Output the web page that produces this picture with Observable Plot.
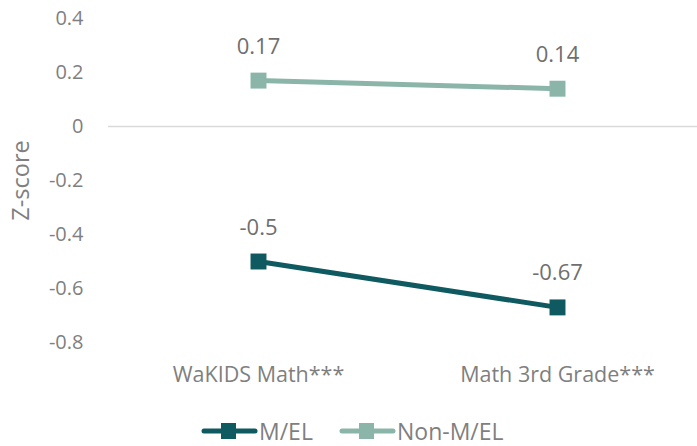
<!DOCTYPE html>
<html>
<head>
<meta charset="utf-8">
<script src="https://cdn.jsdelivr.net/npm/d3@7"></script>
<script src="https://cdn.jsdelivr.net/npm/@observablehq/plot@0.6"></script>
<style>
  body { margin: 0; background: #fff; font-family: "Open Sans", sans-serif; }
  #chart { width: 697px; }
  .legend { position: relative; height: 46px; font-size: 23px; color: #7f7f7f; }
  .legend .item { position: absolute; top: 16px; display: flex; align-items: center; height: 30px; }
  .legend svg { display: block; }
</style>
</head>
<body>
<div id="chart"></div>
<script>
const categories = ["WaKIDS Math***", "Math 3rd Grade***"];
const seriesNames = ["M/EL", "Non-M/EL"];
const melValues = [-0.5, -0.67];
const nonMelValues = [0.17, 0.14];
const yTicks = [-0.8, -0.6, -0.4, -0.2, 0, 0.2, 0.4];
const colors = ["#0f5a60", "#8bb5a8"];

const data = [];
categories.forEach((c, i) => {
  data.push({category: c, series: seriesNames[0], value: melValues[i]});
  data.push({category: c, series: seriesNames[1], value: nonMelValues[i]});
});

const textColor = "#7f7f7f";

const plot = Plot.plot({
  width: 697,
  height: 400,
  marginLeft: 108,
  marginRight: 0,
  marginTop: 18,
  marginBottom: 58,
  style: { fontFamily: "Open Sans, sans-serif", fontSize: "20px", color: textColor, background: "#fff" },
  x: { type: "point", domain: categories, range: [258, 557], padding: 0, label: null },
  y: { domain: [-0.8, 0.4], ticks: yTicks, label: null },
  color: { domain: seriesNames, range: colors },
  marks: [
    Plot.ruleY([0], { stroke: "#d9d9d9", strokeWidth: 1.5 }),
    Plot.axisY({ ticks: yTicks, tickSize: 0, tickPadding: 25, tickFormat: d => String(d), fontSize: 20, fill: textColor }),
    Plot.axisX({ tickSize: 0, tickPadding: 24, fontSize: 21.5, fill: textColor, frameAnchor: "bottom" }),
    Plot.text(["Z-score"], { frameAnchor: "left", textAnchor: "middle", dx: -87, rotate: -90, fontSize: 23.5, fill: textColor }),
    Plot.line(data, { x: "category", y: "value", z: "series", stroke: "series", strokeWidth: 5 }),
    Plot.dot(data, { x: "category", y: "value", fill: "series", symbol: "square", r: 9 }),
    Plot.text(data, { x: "category", y: "value", text: d => String(d.value), dy: -34, fontSize: 22, fill: "#6f6f6f" })
  ]
});
document.getElementById("chart").appendChild(plot);

const legend = d3.select("#chart").append("div").attr("class", "legend");
const legendX = [201, 339];
seriesNames.forEach((s, i) => {
  const item = legend.append("div").attr("class", "item").style("left", legendX[i] + "px");
  const svg = item.append("svg").attr("width", 58).attr("height", 20);
  svg.append("line").attr("x1", 3).attr("x2", 54).attr("y1", 10).attr("y2", 10)
    .attr("stroke", colors[i]).attr("stroke-width", 5).attr("stroke-linecap", "round");
  svg.append("rect").attr("x", 20).attr("y", 2).attr("width", 15).attr("height", 16).attr("fill", colors[i]);
  item.append("span").text(s);
});
</script>
</body>
</html>
